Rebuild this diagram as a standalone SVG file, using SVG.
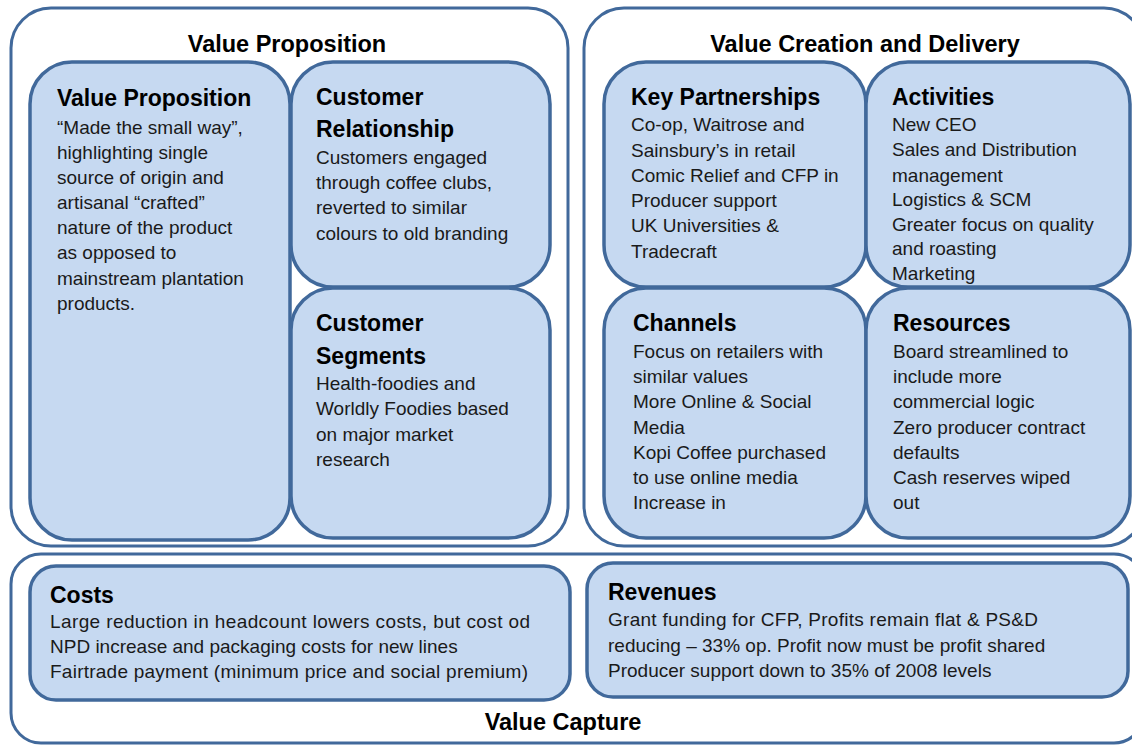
<svg xmlns="http://www.w3.org/2000/svg" width="1132" height="745" viewBox="0 0 1132 745">
<style>
.outer{fill:#ffffff;stroke:#41699b;stroke-width:3}
.box{fill:#c6d9f1;stroke:#41699b;stroke-width:3.5}
.title{font-family:"Liberation Sans",Arial,sans-serif;font-weight:bold;font-size:23.5px;fill:#000}
.h{font-family:"Liberation Sans",Arial,sans-serif;font-weight:bold;font-size:23px;fill:#000}
.t{font-family:"Liberation Sans",Arial,sans-serif;font-size:19px;fill:#1a1a1a}
</style>
<rect width="1132" height="745" fill="#ffffff"/>
<g id="group-value-proposition">
<rect class="outer" x="11" y="8" width="557" height="538" rx="40"/>
<text class="title" x="287" y="52" text-anchor="middle">Value Proposition</text>
</g>
<g id="group-value-creation">
<rect class="outer" x="584" y="8" width="560" height="538" rx="40"/>
<text class="title" x="865" y="52" text-anchor="middle">Value Creation and Delivery</text>
</g>
<g id="group-value-capture">
<rect class="outer" x="11" y="554" width="1133" height="189" rx="30"/>
<text class="title" x="563" y="730" text-anchor="middle">Value Capture</text>
</g>
<g id="node-value-proposition">
<rect class="box" x="30" y="62" width="260" height="478" rx="42"/>
<text class="h" x="57" y="106">Value Proposition</text>
<text class="t" x="57" y="134">“Made the small way”,</text>
<text class="t" x="57" y="159">highlighting single</text>
<text class="t" x="57" y="184">source of origin and</text>
<text class="t" x="57" y="209">artisanal “crafted”</text>
<text class="t" x="57" y="234">nature of the product</text>
<text class="t" x="57" y="259">as opposed to</text>
<text class="t" x="57" y="285">mainstream plantation</text>
<text class="t" x="57" y="310">products.</text>
</g>
<g id="node-customer-relationship">
<rect class="box" x="291" y="62" width="259" height="225" rx="42"/>
<text class="h" x="316" y="105">Customer</text>
<text class="h" x="316" y="137">Relationship</text>
<text class="t" x="316" y="164">Customers engaged</text>
<text class="t" x="316" y="189">through coffee clubs,</text>
<text class="t" x="316" y="214">reverted to similar</text>
<text class="t" x="316" y="240">colours to old branding</text>
</g>
<g id="node-customer-segments">
<rect class="box" x="291" y="288" width="259" height="250" rx="42"/>
<text class="h" x="316" y="331">Customer</text>
<text class="h" x="316" y="364">Segments</text>
<text class="t" x="316" y="390">Health-foodies and</text>
<text class="t" x="316" y="415">Worldly Foodies based</text>
<text class="t" x="316" y="441">on major market</text>
<text class="t" x="316" y="466">research</text>
</g>
<g id="node-key-partnerships">
<rect class="box" x="604" y="62" width="262" height="225" rx="42"/>
<text class="h" x="631" y="105">Key Partnerships</text>
<text class="t" x="631" y="131">Co-op, Waitrose and</text>
<text class="t" x="631" y="157">Sainsbury’s in retail</text>
<text class="t" x="631" y="182">Comic Relief  and CFP in</text>
<text class="t" x="631" y="207">Producer support</text>
<text class="t" x="631" y="232">UK Universities &amp;</text>
<text class="t" x="631" y="258">Tradecraft</text>
</g>
<g id="node-activities">
<rect class="box" x="866" y="62" width="264" height="225" rx="42"/>
<text class="h" x="892" y="105">Activities</text>
<text class="t" x="892" y="131">New CEO</text>
<text class="t" x="892" y="156">Sales and Distribution</text>
<text class="t" x="892" y="182">management</text>
<text class="t" x="892" y="206">Logistics &amp; SCM</text>
<text class="t" x="892" y="231">Greater focus on quality</text>
<text class="t" x="892" y="255">and roasting</text>
<text class="t" x="892" y="280">Marketing</text>
</g>
<g id="node-channels">
<rect class="box" x="604" y="288" width="262" height="250" rx="42"/>
<text class="h" x="633" y="331">Channels</text>
<text class="t" x="633" y="358">Focus on retailers with</text>
<text class="t" x="633" y="383">similar values</text>
<text class="t" x="633" y="408">More Online &amp; Social</text>
<text class="t" x="633" y="434">Media</text>
<text class="t" x="633" y="459">Kopi Coffee purchased</text>
<text class="t" x="633" y="484">to use online media</text>
<text class="t" x="633" y="509">Increase in</text>
</g>
<g id="node-resources">
<rect class="box" x="866" y="288" width="264" height="250" rx="42"/>
<text class="h" x="893" y="331">Resources</text>
<text class="t" x="893" y="358">Board  streamlined to</text>
<text class="t" x="893" y="383">include more</text>
<text class="t" x="893" y="408">commercial logic</text>
<text class="t" x="893" y="434">Zero producer contract</text>
<text class="t" x="893" y="459">defaults</text>
<text class="t" x="893" y="484">Cash reserves wiped</text>
<text class="t" x="893" y="509">out</text>
</g>
<g id="node-costs">
<rect class="box" x="30" y="566" width="540" height="134" rx="26"/>
<text class="h" x="50" y="603">Costs</text>
<text class="t" x="50" y="628" textLength="480" lengthAdjust="spacing">Large reduction in headcount lowers costs, but cost od</text>
<text class="t" x="50" y="653">NPD increase and packaging costs for new lines</text>
<text class="t" x="50" y="678" textLength="478" lengthAdjust="spacing">Fairtrade payment (minimum price and social premium)</text>
</g>
<g id="node-revenues">
<rect class="box" x="587" y="563" width="541" height="134" rx="26"/>
<text class="h" x="608" y="600">Revenues</text>
<text class="t" x="608" y="626" textLength="430" lengthAdjust="spacing">Grant funding for CFP, Profits remain flat &amp; PS&amp;D</text>
<text class="t" x="608" y="652">reducing – 33% op. Profit now must be profit shared</text>
<text class="t" x="608" y="677">Producer support down to 35% of 2008 levels</text>
</g>
<g id="connectors"></g>
</svg>
